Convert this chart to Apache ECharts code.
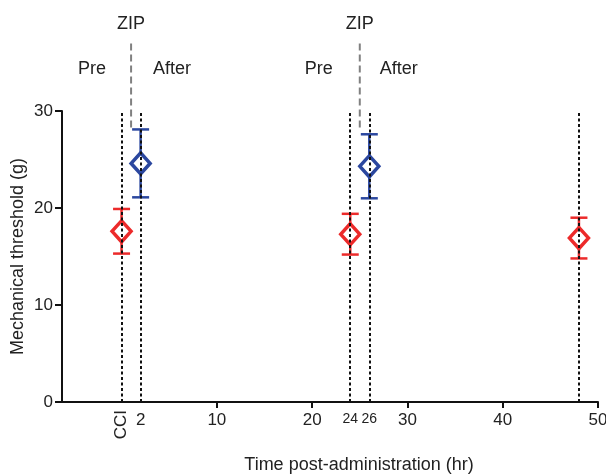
<!DOCTYPE html>
<html>
<head>
<meta charset="utf-8">
<script src="https://cdn.jsdelivr.net/npm/echarts@6/dist/echarts.min.js"></script>
<style>
html,body{margin:0;padding:0;background:#fff}
#main{width:606px;height:475px}
</style>
</head>
<body>
<div id="main"></div>
<script>
// pre-ZIP measurements (red)
var preTimes = [0, 24, 48];
var preMean = [17.6, 17.3, 16.9];
var preErr = [2.3, 2.1, 2.1];
// after-ZIP measurements (blue)
var afterTimes = [2, 26];
var afterMean = [24.6, 24.3];
var afterErr = [3.5, 3.3];
// dotted time markers and ZIP injections
var markTimes = [0, 2, 24, 26, 48];
var zipTimes = [1, 25];
// axis labels / ticks
var xLabelValues = [2, 10, 20, 24, 26, 30, 40, 50];
var xTickValues = [10, 20, 30, 40, 50];
var smallLabels = [24, 26];
// text annotations above the plot
var annoText = ['ZIP', 'Pre', 'After', 'ZIP', 'Pre', 'After'];
var annoX = [1, -3.1, 5.3, 25, 20.7, 29.1];
var annoY = [39, 34.3, 34.3, 39, 34.3, 34.3];

var RED = '#ec2a2a', BLUE = '#2b479f';
var FONT = '"Liberation Sans", Arial, sans-serif';

function barData(times, mean, err) {
    return times.map(function (t, i) { return [t, mean[i] - err[i], mean[i] + err[i]]; });
}
function pointData(times, mean) {
    return times.map(function (t, i) { return [t, mean[i]]; });
}

function errorBar(color) {
    return function (params, api) {
        var x = api.value(0);
        var bot = api.coord([x, api.value(1)]);
        var top = api.coord([x, api.value(2)]);
        var hw = 8.5;
        var st = { stroke: color, lineWidth: 2.5, fill: null };
        return {
            type: 'group',
            children: [
                { type: 'line', shape: { x1: top[0], y1: top[1], x2: bot[0], y2: bot[1] }, style: st },
                { type: 'line', shape: { x1: top[0] - hw, y1: top[1], x2: top[0] + hw, y2: top[1] }, style: st },
                { type: 'line', shape: { x1: bot[0] - hw, y1: bot[1], x2: bot[0] + hw, y2: bot[1] }, style: st }
            ]
        };
    };
}

var myChart = echarts.init(document.getElementById('main'));

var option = {
    animation: false,
    textStyle: { fontFamily: FONT },
    grid: { left: 62, right: 8, top: 111, bottom: 73, containLabel: false, outerBoundsMode: 'none' },
    xAxis: [
        {
            type: 'value',
            min: -6.25,
            max: 50,
            name: 'Time post-administration (hr)',
            nameLocation: 'middle',
            nameGap: 54,
            nameMoveOverlap: false,
            nameTextStyle: { fontSize: 18, color: '#222', fontFamily: FONT, padding: [0, 0, 0, 58] },
            axisLine: { onZero: false, lineStyle: { color: '#111', width: 2 } },
            axisTick: { customValues: xTickValues, length: 6, lineStyle: { color: '#111', width: 2 } },
            axisLabel: {
                customValues: xLabelValues,
                margin: 10,
                fontSize: 17,
                color: '#222',
                fontFamily: FONT,
                formatter: function (v) {
                    return smallLabels.indexOf(v) >= 0 ? '{s|' + v + '}' : String(v);
                },
                rich: { s: { fontSize: 14, color: '#222', fontFamily: FONT } }
            },
            splitLine: { show: false }
        },
        {
            type: 'value',
            min: -6.25,
            max: 50,
            position: 'bottom',
            axisLine: { show: false, onZero: false },
            axisTick: { show: false },
            axisLabel: {
                customValues: [0],
                rotate: 90,
                margin: 8,
                fontSize: 17,
                color: '#222',
                fontFamily: FONT,
                formatter: function () { return 'CCI'; }
            },
            splitLine: { show: false }
        }
    ],
    yAxis: {
        type: 'value',
        min: 0,
        max: 30,
        interval: 10,
        name: 'Mechanical threshold (g)',
        nameLocation: 'middle',
        nameGap: 35,
        nameMoveOverlap: false,
        nameTextStyle: { fontSize: 18, color: '#222', fontFamily: FONT },
        axisLine: { show: true, onZero: false, lineStyle: { color: '#111', width: 2 } },
        axisTick: { show: true, length: 7, lineStyle: { color: '#111', width: 2 } },
        axisLabel: { margin: 9, fontSize: 17, color: '#222', fontFamily: FONT },
        splitLine: { show: false }
    },
    series: [
        {
            type: 'line',
            data: [],
            silent: true,
            z: 1,
            markLine: {
                silent: true,
                symbol: ['none', 'none'],
                label: { show: false },
                lineStyle: { color: '#111', width: 2, type: [3, 2.5] },
                data: markTimes.map(function (t) { return { xAxis: t }; })
            }
        },
        {
            type: 'custom',
            z: 1,
            silent: true,
            clip: false,
            data: zipTimes.map(function (t) { return [t]; }),
            renderItem: function (params, api) {
                var a = api.coord([api.value(0), 28.3]);
                var b = api.coord([api.value(0), 37.3]);
                return {
                    type: 'line',
                    shape: { x1: a[0], y1: a[1], x2: b[0], y2: b[1] },
                    style: { stroke: '#808080', lineWidth: 2, lineDash: [7, 4] }
                };
            }
        },
        {
            type: 'custom',
            z: 2,
            silent: true,
            clip: false,
            data: annoText.map(function (s, i) { return [annoX[i], annoY[i], i]; }),
            renderItem: function (params, api) {
                var p = api.coord([api.value(0), api.value(1)]);
                return {
                    type: 'text',
                    x: p[0],
                    y: p[1],
                    style: {
                        text: annoText[api.value(2)],
                        fill: '#222',
                        fontSize: 18,
                        fontFamily: FONT,
                        align: 'center',
                        verticalAlign: 'middle'
                    }
                };
            }
        },
        {
            type: 'custom',
            z: 3,
            silent: true,
            data: barData(preTimes, preMean, preErr),
            renderItem: errorBar(RED)
        },
        {
            type: 'custom',
            z: 3,
            silent: true,
            data: barData(afterTimes, afterMean, afterErr),
            renderItem: errorBar(BLUE)
        },
        {
            type: 'scatter',
            z: 4,
            symbol: 'diamond',
            symbolSize: [19, 21],
            itemStyle: { color: '#fff', borderColor: RED, borderWidth: 3.5, opacity: 1 },
            data: pointData(preTimes, preMean)
        },
        {
            type: 'scatter',
            z: 4,
            symbol: 'diamond',
            symbolSize: [19, 21],
            itemStyle: { color: '#fff', borderColor: BLUE, borderWidth: 3.5, opacity: 1 },
            data: pointData(afterTimes, afterMean)
        }
    ]
};

if (option && typeof option === 'object') {
    myChart.setOption(option, true);
}
</script>
</body>
</html>
